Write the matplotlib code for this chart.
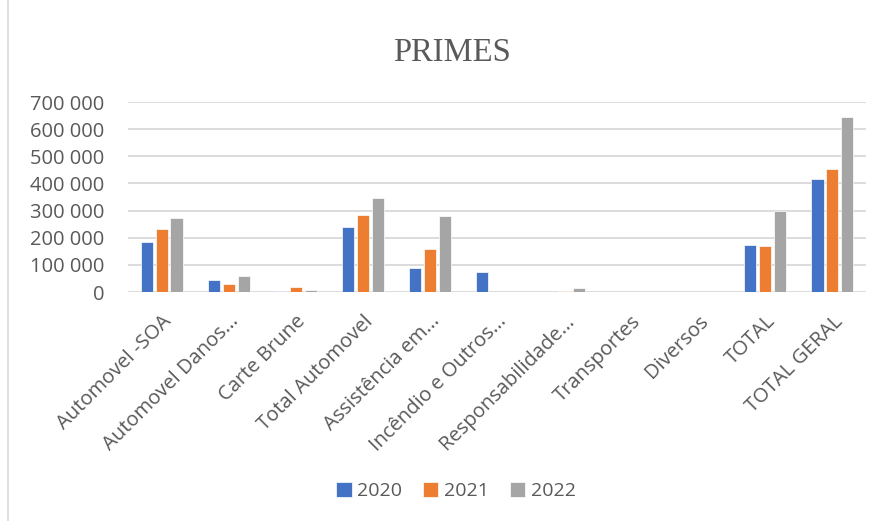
import matplotlib.pyplot as plt
import numpy as np
from matplotlib.lines import Line2D
from matplotlib.ticker import FuncFormatter, MultipleLocator

# donnees
categories = ['Automovel -SOA', 'Automovel Danos...', 'Carte Brune', 'Total Automovel',
              'Assistência em...', 'Incêndio e Outros...', 'Responsabilidade...',
              'Transportes', 'Diversos', 'TOTAL', 'TOTAL GERAL']
years = ['2020', '2021', '2022']
primes_2020 = [186000, 44000, 2500, 241000, 88000, 72000, 1000, 500, 300, 172000, 415000]
primes_2021 = [231000, 28000, 18000, 284000, 158000, 0, 5000, 300, 0, 168000, 453000]
primes_2022 = [273000, 60000, 8000, 347000, 280000, 0, 13000, 0, 200, 298000, 643000]
colors = ['#4472C4', '#ED7D31', '#A5A5A5']

plt.rcParams['font.family'] = ['Open Sans', 'DejaVu Sans']

fig = plt.figure(figsize=(8.83, 5.21), dpi=100)
ax = fig.add_axes([128/883, 1-292/521, (866-128)/883, (292-102)/521])

x = np.arange(len(categories))
w = 0.18
for i, (vals, yr) in enumerate(zip([primes_2020, primes_2021, primes_2022], years)):
    ax.bar(x + (i-1)*0.223, vals, w, color=colors[i], label=yr,
           edgecolor='white', linewidth=0.5, zorder=3)

ax.set_xlim(-0.5, len(categories)-0.5)
ax.set_ylim(0, 700000)
ax.yaxis.set_major_locator(MultipleLocator(100000))
ax.yaxis.set_major_formatter(FuncFormatter(lambda v, p: f'{int(v):,}'.replace(',', ' ')))
ax.grid(axis='y', color='#D9D9D9', linewidth=1.3, zorder=0)
for s in ax.spines.values():
    s.set_visible(False)
ax.tick_params(axis='both', length=0, colors='#595959', labelsize=14.5)
ax.tick_params(axis='y', pad=17)
ax.set_xticks(x)
ax.set_xticklabels(categories, rotation=45, ha='right', rotation_mode='anchor')
ax.tick_params(axis='x', pad=14)

fig.text(452/883, 1-53/521, 'PRIMES', ha='center', va='center', fontsize=23.5,
         family='Liberation Serif', color='#595959')

fig.legend(loc='center', bbox_to_anchor=(456/883, 1-491/521), ncol=3, frameon=False,
           fontsize=14, handlelength=0.8, handleheight=0.8, handletextpad=0.3,
           columnspacing=1.05, labelcolor='#595959')

# bordure a gauche du cadre
fig.lines.append(Line2D([8/883, 8/883], [0, 1], transform=fig.transFigure,
                        color='#D9D9D9', linewidth=1.2))

plt.savefig('out.png')
